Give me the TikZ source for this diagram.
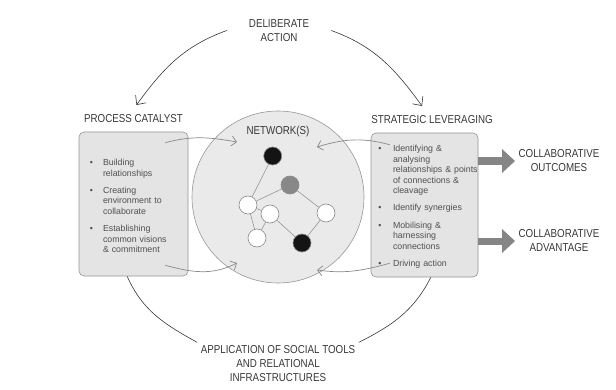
\documentclass[tikz,border=0pt]{standalone}
\usepackage{fontspec}
\setmainfont{Liberation Sans}
\newfontfamily\handfont[FakeStretch=0.85]{Liberation Sans}
\usepackage{enumitem}
\setlist[itemize]{label=\textbullet, nosep, itemsep=7pt, leftmargin=12pt, labelsep=10pt, rightmargin=-8pt}
\usetikzlibrary{arrows.meta,positioning,calc}
\definecolor{netBox}{RGB}{228,228,228}
\definecolor{netLine}{RGB}{150,150,150}
\definecolor{netDisc}{RGB}{234,234,234}
\definecolor{netText}{RGB}{80,80,80}
\definecolor{netInk}{RGB}{55,55,55}
\definecolor{netFat}{RGB}{133,133,133}
\definecolor{netGrey}{RGB}{136,136,136}
\definecolor{netBlack}{RGB}{20,20,20}
\tikzset{
  panel/.style={
    rectangle, rounded corners=5pt,
    draw=netLine, fill=netBox, line width=0.6pt,
    minimum height=144pt,
    align=left, font=\fontsize{8.8}{10.4}\selectfont,
    text=netText
  },
  heading/.style={
    font=\handfont\fontsize{11.5}{14}\selectfont,
    text=netInk, align=center
  },
  netdot/.style={
    circle, draw=netGrey, fill=#1,
    minimum size=18pt, inner sep=0pt, line width=0.6pt
  },
  link/.style={draw=netLine, line width=0.6pt},
  sweep/.style={-{Straight Barb[length=7pt,width=13pt]}, line width=0.6pt, draw=netInk},
  feed/.style={-{Straight Barb[length=5pt,width=10pt]}, line width=0.7pt, draw=netGrey},
  fatarr/.style={-{Triangle[length=13pt,width=23pt]}, line width=7pt, draw=netFat},
}

\begin{document}
\begin{tikzpicture}[x=1pt,y=1pt]
  \useasboundingbox (0,0) rectangle (616,389);

  % Network disc
  \node[circle, draw=netLine, fill=netDisc, minimum size=172pt, line width=0.6pt] (net) at (278,192) {};
  \node[heading] (netT) at (278,257) {NETWORK(S)};

  % Network members
  \node[netdot=netBlack] (n1) at (272.7,233) {};
  \node[netdot=netGrey]  (n2) at (290,204)   {};
  \node[netdot=white]    (n3) at (248,184)   {};
  \node[netdot=white]    (n4) at (270,175)   {};
  \node[netdot=white]    (n5) at (326,176)   {};
  \node[netdot=white]    (n6) at (257,151)   {};
  \node[netdot=netBlack] (n7) at (302,146)   {};

  \draw[link] (n1) -- (n3);
  \draw[link] (n3) -- (n2);
  \draw[link] (n2) -- (n5);
  \draw[link] (n5) -- (n7);
  \draw[link] (n7) -- (n4);
  \draw[link] (n3) -- (n4);
  \draw[link] (n3) -- (n6);
  \draw[link] (n4) -- (n6);

  % Left panel
  \node[panel, text width=85pt, inner xsep=12pt] (pc) at (133.5,185)
    {\begin{itemize}
       \item Building\newline relationships
       \item Creating\newline environment to\newline collaborate
       \item Establishing\newline common visions\newline \& commitment
     \end{itemize}};
  \node[heading, above=5.5pt of pc] (pcT) {PROCESS CATALYST};

  % Right panel
  \node[panel, text width=95pt, inner xsep=6pt] (sl) at (424.5,184)
    {\begin{itemize}[leftmargin=16pt, labelsep=11.5pt]
       \item Identifying \&\newline analysing\newline relationships \& points\newline of connections \&\newline cleavage
       \item Identify synergies
       \item Mobilising \&\newline harnessing\newline connections
       \item Driving action
     \end{itemize}};
  \node[heading, above=5.5pt of sl, xshift=7.5pt] (slT) {STRATEGIC LEVERAGING};

  % Outcomes
  \node[heading] (co) at (559,228) {COLLABORATIVE\\OUTCOMES};
  \node[heading] (ca) at (559,148) {COLLABORATIVE\\ADVANTAGE};
  \draw[fatarr] (sl.east |- co.west) -- (co.west);
  \draw[fatarr] (sl.east |- ca.west) -- (ca.west);

  % Outer cycle
  \node[heading, inner xsep=22pt] (da) at (279,358.5) {DELIBERATE\\ACTION};
  \node[heading] (app) at (278,25) {APPLICATION OF SOCIAL TOOLS\\AND RELATIONAL\\INFRASTRUCTURES};

  \draw[sweep] (da.west) to[out=200,in=54] ([xshift=3pt,yshift=6pt]pcT.north);
  \draw[sweep] (da.east) to[out=340,in=126] ([xshift=-10pt,yshift=6pt]slT.north);
  \draw[line width=0.6pt, draw=netInk] (pc.265) to[out=294,in=151] (app.north west);
  \draw[line width=0.6pt, draw=netInk] (sl.275) to[out=243,in=27] (app.north east);

  % Feedback into the network
  \draw[feed] ($(pc.north east)+(-23,-11)$) to[out=15,in=170] ($(net.center)+(-41,55)$);
  \draw[feed] ($(pc.south east)+(-23,11)$) to[out=-15,in=207] ($(net.center)+(-41,-66)$);
  \draw[feed] ($(sl.north west)+(19,-12)$) to[out=165,in=17] ($(net.center)+(39,50)$);
  \draw[feed] ($(sl.south west)+(19,14)$) to[out=195,in=-8] ($(net.center)+(39,-73)$);
\end{tikzpicture}
\end{document}
